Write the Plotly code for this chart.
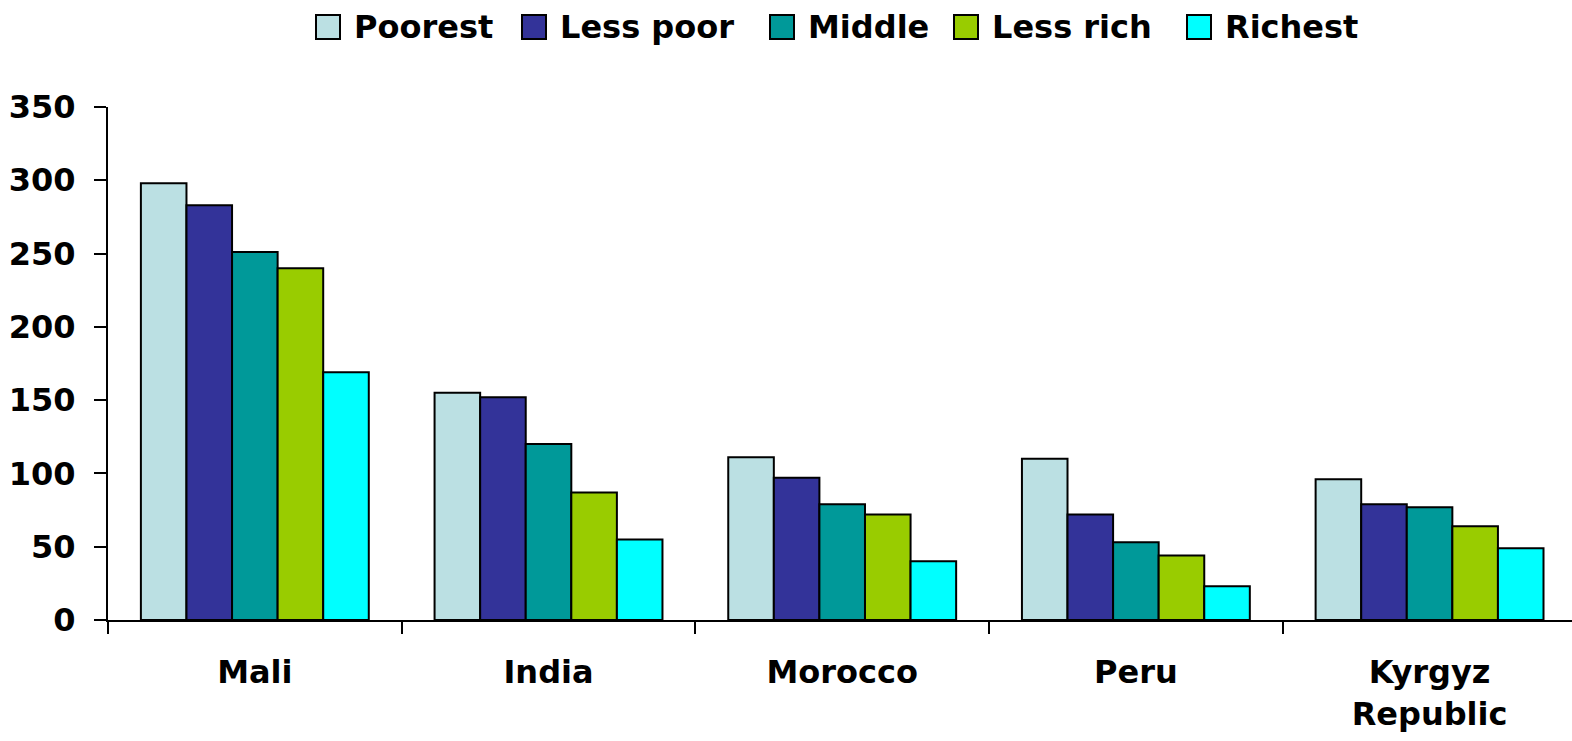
import plotly.graph_objects as go

countries = ["Mali", "India", "Morocco", "Peru", "Kyrgyz<br>Republic"]
series_names = ["Poorest", "Less poor", "Middle", "Less rich", "Richest"]
poorest = [298, 155, 111, 110, 96]
less_poor = [283, 152, 97, 72, 79]
middle = [251, 120, 79, 53, 77]
less_rich = [240, 87, 72, 44, 64]
richest = [169, 55, 40, 23, 49]
colors = ["#BBE0E3", "#333399", "#009999", "#99CC00", "#00FFFF"]
y_ticks = [0, 50, 100, 150, 200, 250, 300, 350]

FONT = "DejaVu Sans"
W, H = 1572, 741
ML, MR, MT, MB = 108, 0, 107, 121
PW, PH = W - ML - MR, H - MT - MB

fig = go.Figure()
for name, vals, col in zip(series_names, [poorest, less_poor, middle, less_rich, richest], colors):
    fig.add_trace(go.Bar(
        x=countries, y=vals, name=name, showlegend=False,
        marker=dict(color=col, line=dict(color="black", width=2)),
    ))

# manual legend (large square swatches as in the reference)
legend_box_left_px = [316, 522, 770, 954, 1187]
box = 24
legend_cy_px = 27
for name, col, bx in zip(series_names, colors, legend_box_left_px):
    x0 = (bx - ML) / PW
    x1 = (bx + box - ML) / PW
    y0 = (H - MB - (legend_cy_px + box / 2)) / PH
    y1 = (H - MB - (legend_cy_px - box / 2)) / PH
    fig.add_shape(type="rect", xref="paper", yref="paper", x0=x0, x1=x1, y0=y0, y1=y1,
                  fillcolor=col, line=dict(color="black", width=2))
    fig.add_annotation(xref="paper", yref="paper", x=(bx + box + 12 - ML) / PW,
                       y=(H - MB - legend_cy_px) / PH, text=name, showarrow=False,
                       xanchor="left", yanchor="middle",
                       font=dict(family=FONT, size=32, color="black", weight="bold"))

fig.update_layout(
    width=W, height=H,
    margin=dict(l=ML, r=MR, t=MT, b=MB),
    plot_bgcolor="white", paper_bgcolor="white",
    barmode="group", bargap=0.224, bargroupgap=0,
    font=dict(family=FONT, size=32, color="black", weight="bold"),
    showlegend=False,
    xaxis=dict(range=[-0.5, 4.485], showline=True, linecolor="black", linewidth=2,
               ticks="outside", tickson="boundaries", ticklen=12, tickwidth=2, tickcolor="black",
               showgrid=False, zeroline=False, automargin=False, ticklabelstandoff=23,
               tickfont=dict(family=FONT, size=32, color="black", weight="bold")),
    yaxis=dict(range=[0, 350], tickvals=y_ticks, showline=True, linecolor="black", linewidth=2,
               ticks="outside", ticklen=12, tickwidth=2, tickcolor="black",
               showgrid=False, zeroline=False, automargin=False, ticklabelstandoff=12,
               tickfont=dict(family=FONT, size=32, color="black", weight="bold")),
)
fig.write_html("out.html", config={"displayModeBar": False},
               post_script="document.body.style.margin='0';document.body.style.overflow='hidden';")
